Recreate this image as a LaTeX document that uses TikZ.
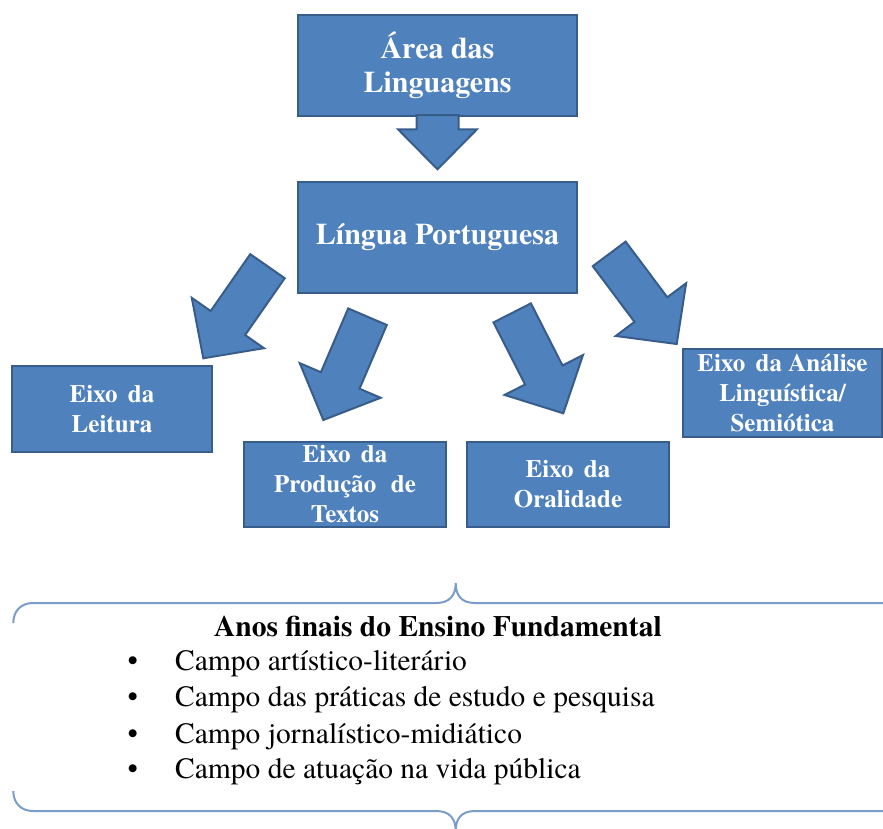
\documentclass[tikz,border=0pt]{standalone}
\usepackage{fontspec}
\setmainfont{TeX Gyre Termes}
\usetikzlibrary{calc}
\definecolor{boxfill}{HTML}{4F81BD}
\definecolor{boxline}{HTML}{385D8A}
\definecolor{braceline}{RGB}{122,156,202}
\tikzset{
  bluebox/.style={draw=boxline, line width=2pt, fill=boxfill, text=white,
    font=\bfseries, align=center, inner sep=0pt},
  bigtext/.style={font=\fontsize{30}{34}\selectfont\bfseries},
  smalltext/.style={font=\fontsize{25}{30}\selectfont\bfseries},
  arrowblk/.style={draw=boxline, line width=2pt, fill=boxfill, line join=miter},
  bracestyle/.style={draw=braceline, line width=2pt},
  listtext/.style={font=\fontsize{29.5}{36}\selectfont, anchor=base west, inner sep=0pt},
  bullettext/.style={font=\fontsize{29.5}{36}\selectfont, anchor=base, inner sep=0pt}
}
% #1 tail, #2 tip, #3 shaft half width, #4 head half width, #5 head length
\newcommand{\blockarrow}[5]{%
  \coordinate (ba-n) at ($(#2)!#5!(#1)$);
  \filldraw[arrowblk]
    ($(#1)!#3!90:(#2)$) -- ($(ba-n)!#3!90:(#2)$) -- ($(ba-n)!#4!90:(#2)$)
    -- (#2)
    -- ($(ba-n)!#4!-90:(#2)$) -- ($(ba-n)!#3!-90:(#2)$) -- ($(#1)!#3!-90:(#2)$)
    -- cycle;
}
\begin{document}
\begin{tikzpicture}[x=1pt,y=-1pt]
\useasboundingbox (0,0) rectangle (883,828);

% boxes
\node[bluebox, bigtext, minimum width=279pt, minimum height=101pt] (area) at (437.5,65.5) {Área das\\Linguagens};
\node[bluebox, bigtext, minimum width=279pt, minimum height=111pt] (lp) at (437.5,237.5) {Língua Portuguesa};
\node[bluebox, smalltext, minimum width=200pt, minimum height=86pt] (leitura) at (112,409) {Eixo\, da\\Leitura};
\node[bluebox, smalltext, minimum width=202pt, minimum height=85pt] (producao) at (345,484.5) {Eixo\, da\\Produção\,\, de\\Textos};
\node[bluebox, smalltext, minimum width=202.6pt, minimum height=85pt] (oralidade) at (568,484.2) {Eixo\, da\\Oralidade};
\node[bluebox, smalltext, minimum width=199.6pt, minimum height=87.7pt] (analise) at (782.5,392.8) {Eixo\, da Análise\\Linguística/\\Semiótica};

% block arrows
\coordinate (t0) at (437.5,115);   \coordinate (h0) at (437.5,169.3);
\coordinate (t1) at (267.5,266.2); \coordinate (h1) at (203.3,358.3);
\coordinate (t2) at (367.5,316.7); \coordinate (h2) at (323.3,420);
\coordinate (t3) at (512.2,312.9); \coordinate (h3) at (563.3,413.3);
\coordinate (t4) at (609.2,253.9); \coordinate (h4) at (676.7,344);
\blockarrow{t0}{h0}{21pt}{39.5pt}{40pt}
\blockarrow{t1}{h1}{21pt}{44pt}{43pt}
\blockarrow{t2}{h2}{21pt}{44pt}{43pt}
\blockarrow{t3}{h3}{21pt}{44pt}{43pt}
\blockarrow{t4}{h4}{20.5pt}{44pt}{43pt}

% braces
\draw[bracestyle] (13.3,623) .. controls (13.3,611) and (21,603) .. (33,603)
  -- (436,603) .. controls (450,603) and (455.7,595) .. (455.7,583)
  .. controls (455.7,595) and (461,603) .. (475,603) -- (883,603);
\draw[bracestyle] (13.3,791) .. controls (13.3,803) and (21,811) .. (33,811)
  -- (436,811) .. controls (450,811) and (455.7,819) .. (455.7,831)
  .. controls (455.7,819) and (461,811) .. (475,811) -- (883,811);

% text
\node[font=\fontsize{29.5}{36}\selectfont\bfseries, anchor=base, inner sep=0pt] (titulo) at (438,636.7) {Anos finais do Ensino Fundamental};
\node[bullettext] (b1) at (132.7,670) {•};
\node[bullettext] (b2) at (132.7,706.7) {•};
\node[bullettext] (b3) at (132.7,743.3) {•};
\node[bullettext] (b4) at (132.7,778.3) {•};
\node[listtext] (i1) at (175,670) {Campo artístico-literário};
\node[listtext] (i2) at (175,706.7) {Campo das práticas de estudo e pesquisa};
\node[listtext] (i3) at (175,743.3) {Campo jornalístico-midiático};
\node[listtext] (i4) at (175,778.3) {Campo de atuação na vida pública};
\end{tikzpicture}
\end{document}
